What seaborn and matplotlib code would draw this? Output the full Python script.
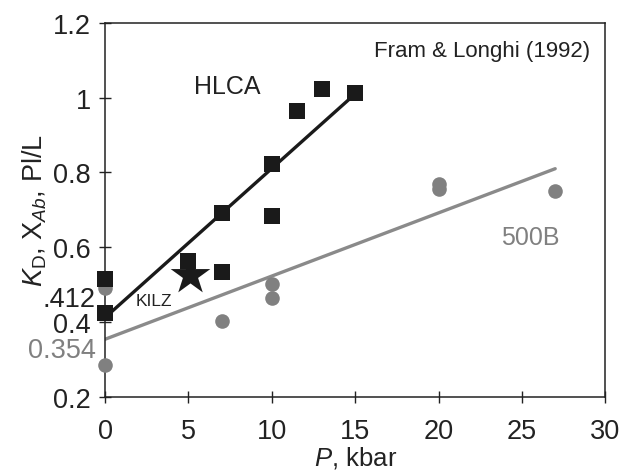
import matplotlib
matplotlib.use("Agg")
import matplotlib.pyplot as plt
import matplotlib.transforms as mtransforms
import numpy as np
import pandas as pd
import seaborn as sns

# HLCA experiments (black squares)
hlca_p = [0, 0, 5, 7, 7, 10, 10, 11.5, 13, 15]
hlca_kd = [0.515, 0.425, 0.562, 0.535, 0.692, 0.822, 0.683, 0.965, 1.024, 1.012]
# 500B experiments (grey circles)
b500_p = [0, 0, 7, 10, 10, 20, 20, 27]
b500_kd = [0.492, 0.284, 0.402, 0.502, 0.465, 0.770, 0.757, 0.750]
# KILZ point (star)
kilz_p = [5.1]
kilz_kd = [0.527]
# regression lines (end points)
hlca_fit_p = [0, 15]
hlca_fit_kd = [0.412, 1.010]
b500_fit_p = [0, 27]
b500_fit_kd = [0.354, 0.810]

x_ticks = [0, 5, 10, 15, 20, 25, 30]
y_ticks = [0.2, 0.4, 0.6, 0.8, 1.0, 1.2]
y_tick_labels = ["0.2", "0.4", "0.6", "0.8", "1", "1.2"]

sns.set_theme(style="ticks")
plt.rcParams["font.family"] = ["Liberation Sans", "DejaVu Sans"]
plt.rcParams["mathtext.fontset"] = "custom"
plt.rcParams["mathtext.rm"] = "Liberation Sans"
plt.rcParams["mathtext.it"] = "Liberation Sans:italic"
plt.rcParams["mathtext.bf"] = "Liberation Sans:bold"

BLACK = "#1a1a1a"
GREY = "#808080"
fs = 19.5

fig = plt.figure(figsize=(6.22, 4.77), dpi=100)
ax = fig.add_axes([0.169, 0.166, 0.804, 0.784])

hlca = pd.DataFrame({"P": hlca_p, "KD": hlca_kd})
b500 = pd.DataFrame({"P": b500_p, "KD": b500_kd})
kilz = pd.DataFrame({"P": kilz_p, "KD": kilz_kd})
hlca_fit = pd.DataFrame({"P": hlca_fit_p, "KD": hlca_fit_kd})
b500_fit = pd.DataFrame({"P": b500_fit_p, "KD": b500_fit_kd})

sns.lineplot(data=b500_fit, x="P", y="KD", color="#8a8a8a", lw=2.4, ax=ax, zorder=2)
sns.lineplot(data=hlca_fit, x="P", y="KD", color=BLACK, lw=2.4, ax=ax, zorder=2)
sns.scatterplot(data=b500, x="P", y="KD", marker="o", s=10.5**2, color=GREY,
                linewidth=0, ax=ax, zorder=3, clip_on=False)
sns.scatterplot(data=hlca, x="P", y="KD", marker="s", s=11**2, color=BLACK,
                linewidth=0, ax=ax, zorder=4, clip_on=False)
sns.scatterplot(data=kilz, x="P", y="KD", marker="*", s=30**2, color=BLACK,
                linewidth=0, ax=ax, zorder=5, clip_on=False)

ax.set_xlim(0, 30)
ax.set_ylim(0.2, 1.2)
ax.set_xticks(x_ticks)
ax.set_yticks(y_ticks)
ax.set_yticklabels(y_tick_labels)
ax.tick_params(axis="both", direction="inout", length=8.5, width=1.0,
               color="#222222", labelsize=fs, labelcolor="#222222")
ax.tick_params(axis="y", pad=6)
ax.tick_params(axis="x", pad=11)
for s in ax.spines.values():
    s.set_linewidth(1.1)
    s.set_color("#222222")

ax.set_xlabel(r"$P$, kbar", fontsize=18.5, color="#222222", labelpad=0)
ax.set_ylabel(r"$K_{\mathrm{D}}$, X$_{Ab}$, Pl/L", fontsize=fs, color="#222222", labelpad=3)

# intercept labels beside the y axis
trans = mtransforms.blended_transform_factory(ax.transAxes, ax.transData)
off = mtransforms.ScaledTranslation(-7 / 72, 0, fig.dpi_scale_trans)
ax.text(0, 0.461, ".412", transform=trans + off, ha="right", va="center",
        fontsize=fs, color="#222222")
ax.text(0, 0.326, "0.354", transform=trans + off, ha="right", va="center",
        fontsize=fs, color=GREY)

ax.text(0.97, 0.955, "Fram & Longhi (1992)", transform=ax.transAxes,
        ha="right", va="top", fontsize=16, color="#222222")
ax.text(7.3, 1.03, "HLCA", ha="center", va="center", fontsize=18, color="#222222")
ax.text(2.9, 0.457, "KILZ", ha="center", va="center", fontsize=12.5, color="#222222")
ax.text(25.5, 0.628, "500B", ha="center", va="center", fontsize=18, color=GREY)

fig.savefig("out.png", dpi=100)
